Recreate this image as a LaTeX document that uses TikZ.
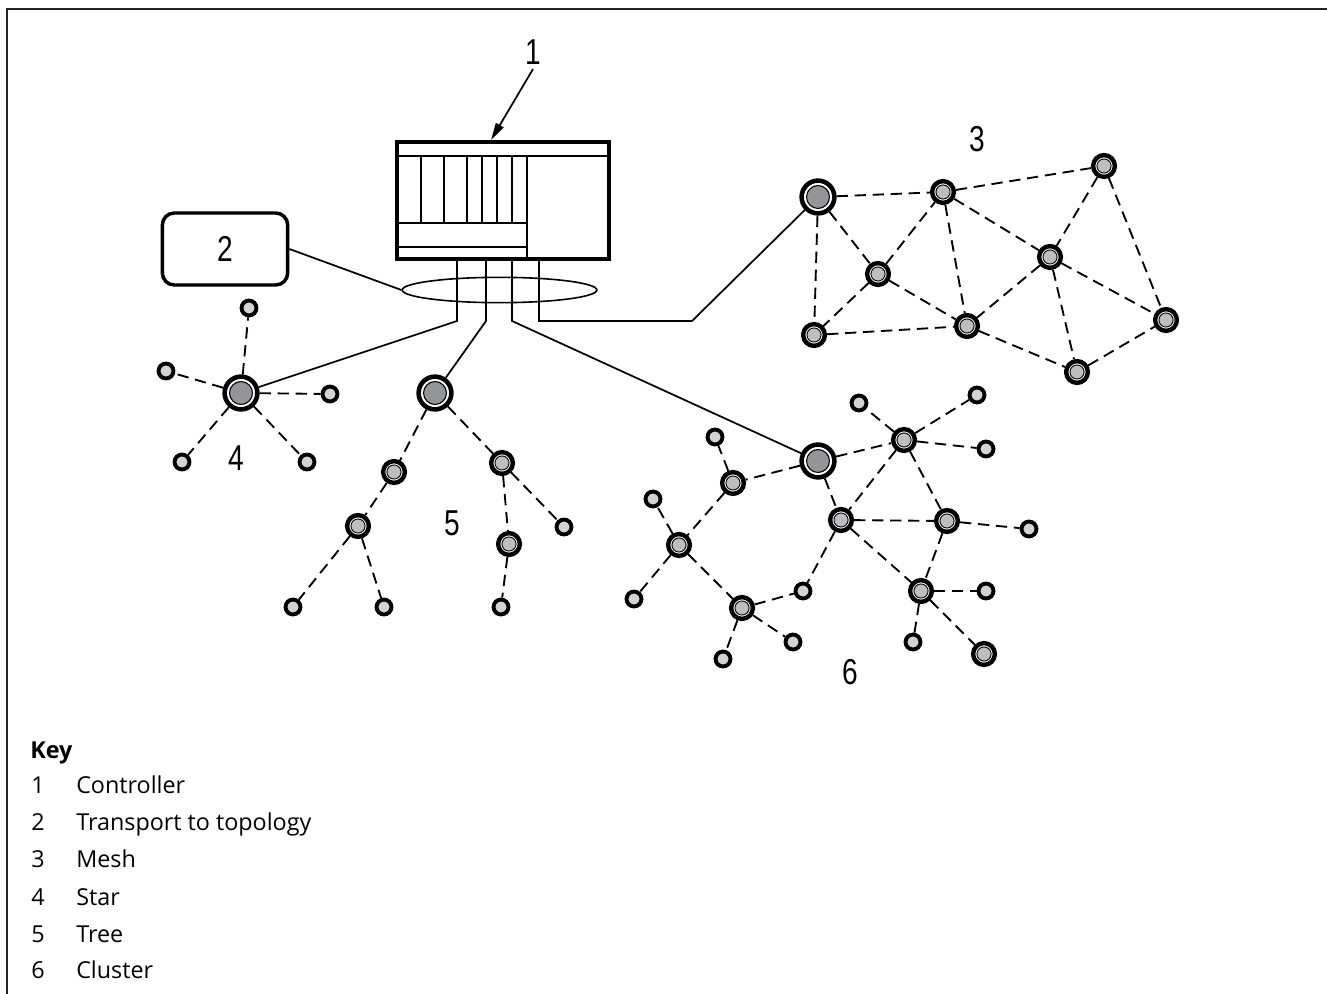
\documentclass[tikz,border=0pt]{standalone}
\usepackage{fontspec}
\setmainfont{Open Sans}
\newfontfamily\isofont[FakeStretch=0.78]{Liberation Sans}
\usetikzlibrary{shapes.geometric,arrows.meta}
\definecolor{hubgray}{HTML}{939598}
\definecolor{midgray}{HTML}{BCBEC0}
\definecolor{leafgray}{HTML}{D1D3D4}
\begin{document}
\begin{tikzpicture}[x=0.75pt,y=-0.75pt,
  hub/.style={circle,draw=black,line width=3.4pt,fill=white,minimum size=24.6pt,inner sep=0pt,
    path picture={\fill[hubgray,draw=black,line width=0.8pt] (path picture bounding box.center) circle (8.6pt);}},
  mid/.style={circle,draw=black,line width=3.3pt,fill=white,minimum size=16.3pt,inner sep=0pt,
    path picture={\fill[midgray,draw=black,line width=0.7pt] (path picture bounding box.center) circle (5.3pt);}},
  leaf/.style={circle,draw=black,line width=2.9pt,fill=leafgray,minimum size=11.2pt,inner sep=0pt},
  dsh/.style={line width=1.4pt,dash pattern=on 8.5pt off 5pt},
  wire/.style={line width=1.3pt},
  thin/.style={line width=1.2pt},
  lbl/.style={font=\isofont\fontsize{27}{30}\selectfont},
  keytxt/.style={font=\fontsize{17.5}{21}\selectfont,anchor=base west,inner sep=0pt}
]
\useasboundingbox (0,0) rectangle (1327,994);
% frame
\draw[line width=1.6pt,black!85] (7,994) -- (7,9) -- (1327,9);

% controller
\node[draw,line width=3.2pt,minimum width=159pt,minimum height=87.75pt,inner sep=0pt] (ctrl) at (503,200.5) {};
\draw[thin] (397,156) -- (609,156);
\draw[thin] (527,156) -- (527,259);
\foreach \xx in {421,444,467,482,497,512} \draw[thin] (\xx,156) -- (\xx,223);
\draw[thin] (397,223) -- (527,223);
\draw[thin] (397,247) -- (527,247);

% label 1 and arrow
\node[lbl] (l1) at (533,52) {1};
\coordinate (a1) at (491,140);
\draw[wire,-{Triangle[length=13pt,width=6.5pt]}] (l1.south) -- (a1);

% transport box
\node[draw,line width=2.6pt,rounded corners=9pt,minimum width=94pt,minimum height=54pt,inner sep=0pt,lbl] (b2) at (225,249) {2};
\node[ellipse,draw,line width=1.2pt,minimum width=146pt,minimum height=19pt,inner sep=0pt] (bus) at (499.5,290) {};
\draw[wire] (b2.east) -- (bus.west);

% bend points
\coordinate (k1) at (457,321);
\coordinate (k2) at (486,321);
\coordinate (k3) at (512,321);
\coordinate (k4) at (539,321);
\coordinate (k5) at (692,321);

% mesh
\node[hub] (M0) at (818,197) {};
\node[mid] (M1) at (943,192) {};
\node[mid] (M2) at (1104,166) {};
\node[mid] (M3) at (878,274) {};
\node[mid] (M4) at (1050,257) {};
\node[mid] (M5) at (814,335) {};
\node[mid] (M6) at (967,326) {};
\node[mid] (M7) at (1166,320) {};
\node[mid] (M8) at (1077,372) {};
\node[lbl] (l3) at (977,139) {3};
\foreach \a/\b in {M0/M1,M1/M2,M0/M3,M0/M5,M3/M1,M3/M5,M3/M6,M5/M6,M1/M6,M1/M4,M2/M4,M2/M7,M4/M6,M4/M8,M4/M7,M6/M8,M8/M7}
  \draw[dsh] (\a) -- (\b);

% star
\node[hub] (S) at (241,393) {};
\node[leaf] (s1) at (249,308) {};
\node[leaf] (s2) at (166,371) {};
\node[leaf] (s3) at (330,394) {};
\node[leaf] (s4) at (182,462) {};
\node[leaf] (s5) at (307,462) {};
\node[lbl] (l4) at (236,458) {4};
\foreach \b in {s1,s2,s3,s4,s5} \draw[dsh] (S) -- (\b);

% tree
\node[hub] (T0) at (435,393) {};
\node[mid] (T1) at (394,472) {};
\node[mid] (T2) at (502,463) {};
\node[mid] (T3) at (358,526) {};
\node[mid] (T4) at (509,544) {};
\node[leaf] (t1) at (564,527) {};
\node[leaf] (t2) at (293,607) {};
\node[leaf] (t3) at (384,607) {};
\node[leaf] (t4) at (501,607) {};
\node[lbl] (l5) at (452,523) {5};
\foreach \a/\b in {T0/T1,T0/T2,T1/T3,T2/T4,T2/t1,T3/t2,T3/t3,T4/t4}
  \draw[dsh] (\a) -- (\b);

% cluster
\node[hub] (C0) at (818,461) {};
\node[mid] (C1) at (904,440) {};
\node[mid] (C2) at (733,483) {};
\node[mid] (C3) at (841,520) {};
\node[mid] (C4) at (947,521) {};
\node[mid] (C5) at (679,545) {};
\node[mid] (C6) at (742,608) {};
\node[mid] (C7) at (921,591) {};
\node[mid] (C8) at (984,654) {};
\node[leaf] (ca) at (859,403) {};
\node[leaf] (cb) at (977,395) {};
\node[leaf] (cc) at (986,449) {};
\node[leaf] (cd) at (715,437) {};
\node[leaf] (ce) at (653,499) {};
\node[leaf] (cf) at (634,599) {};
\node[leaf] (cg) at (803,591) {};
\node[leaf] (ch) at (793,642) {};
\node[leaf] (ci) at (723,659) {};
\node[leaf] (cj) at (1029,529) {};
\node[leaf] (ck) at (986,591) {};
\node[leaf] (cl) at (913,642) {};
\node[lbl] (l6) at (850,672) {6};
\foreach \a/\b in {C0/C1,C0/C2,C0/C3,C1/ca,C1/cb,C1/cc,C1/C3,C1/C4,C3/C4,C3/cg,C3/C7,C4/cj,C4/C7,C7/ck,C7/cl,C7/C8,C2/cd,C2/C5,C5/ce,C5/cf,C5/C6,C6/cg,C6/ci,C6/ch}
  \draw[dsh] (\a) -- (\b);

% wires from controller
\draw[wire] (ctrl.south -| k1) -- (k1) -- (S);
\draw[wire] (ctrl.south -| k2) -- (k2) -- (T0);
\draw[wire] (ctrl.south -| k3) -- (k3) -- (C0);
\draw[wire] (ctrl.south -| k4) -- (k4) -- (k5) -- (M0);

% key
\node[keytxt,font=\bfseries\fontsize{17.5}{21}\selectfont] (key) at (30,758) {Key};
\node[keytxt] (n1) at (31,793) {1};
\node[keytxt] (d1) at (76,793) {Controller};
\node[keytxt] (n2) at (31,830) {2};
\node[keytxt] (d2) at (76,830) {Transport to topology};
\node[keytxt] (n3) at (31,867) {3};
\node[keytxt] (d3) at (76,867) {Mesh};
\node[keytxt] (n4) at (31,905) {4};
\node[keytxt] (d4) at (76,905) {Star};
\node[keytxt] (n5) at (31,942) {5};
\node[keytxt] (d5) at (76,942) {Tree};
\node[keytxt] (n6) at (31,978) {6};
\node[keytxt] (d6) at (76,978) {Cluster};
\end{tikzpicture}
\end{document}
